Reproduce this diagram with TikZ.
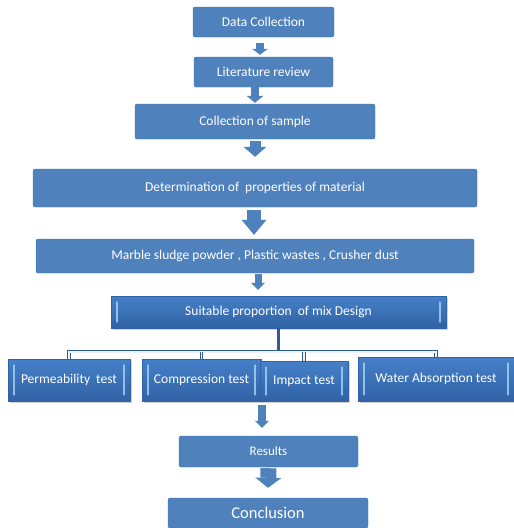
\documentclass[tikz,border=0pt]{standalone}
\usepackage{fontspec}
\setmainfont{Carlito}
\usetikzlibrary{arrows.meta,shadows}
\definecolor{boxblue}{RGB}{79,129,189}
\definecolor{boxedge}{RGB}{70,118,178}
\definecolor{bevtop}{RGB}{70,128,200}
\definecolor{bevbot}{RGB}{48,98,165}
\definecolor{bevlight}{RGB}{175,220,248}
\definecolor{treedark}{RGB}{50,92,145}
\definecolor{treelight}{RGB}{236,242,250}

\begin{document}
\begin{tikzpicture}[x=1pt,y=-1pt,
    flat/.style={draw=boxedge,fill=boxblue,rounded corners=2pt,text=white,
      inner sep=0pt,font=\fontsize{13.5}{16}\selectfont},
    bevel/.style={draw=bevbot,top color=bevtop,bottom color=bevbot,text=white,
      inner sep=0pt,font=\fontsize{13.5}{16}\selectfont,
      drop shadow={shadow xshift=1.5pt,shadow yshift=-1.5pt,opacity=0.35},
      path picture={
        \draw[bevlight,line width=1.3pt,line cap=round,opacity=0.75]
          ([xshift=6pt,yshift=-6pt]path picture bounding box.north west) --
          ([xshift=6pt,yshift=6pt]path picture bounding box.south west);
        \draw[bevlight,line width=1.3pt,line cap=round,opacity=0.75]
          ([xshift=-6pt,yshift=-6pt]path picture bounding box.north east) --
          ([xshift=-6pt,yshift=6pt]path picture bounding box.south east);}},
    fat/.style n args={3}{draw=boxblue,line width=#1,
      -{Triangle[width=#2,length=#3,line width=0pt]}},
    trunk/.style={draw=treedark,line width=3pt},
    branch/.style={draw=treedark,line width=0.8pt,double=treelight,double distance=1.6pt}]
  \useasboundingbox (0,0) rectangle (514,528);

  \node[flat,minimum width=141,minimum height=30] (data) at (263.5,22) {Data Collection};
  \node[flat,minimum width=139,minimum height=30] (lit) at (263.5,72) {Literature\ review};
  \node[flat,minimum width=240,minimum height=35] (col) at (255,121.5) {Collection\ of sample};
  \node[flat,minimum width=444,minimum height=38] (det) at (255,188) {Determination of\ \ properties of material};
  \node[flat,minimum width=438,minimum height=34] (mat) at (255,256) {Marble sludge powder , Plastic wastes , Crusher dust};
  \node[bevel,minimum width=335,minimum height=32] (mix) at (278.5,312) {Suitable\ proportion\ \ of mix Design};

  \node[bevel,minimum width=122,minimum height=42] (perm) at (69,380) {Permeability\ \ test};
  \node[bevel,minimum width=119,minimum height=42] (comp) at (201.5,380) {Compression test};
  \node[bevel,minimum width=88,minimum height=40] (imp) at (304,381) {Impact test};
  \node[bevel,minimum width=156,minimum height=44] (water) at (436,379) {Water Absorption test};

  \node[flat,minimum width=179,minimum height=31,font=\fontsize{13}{15}\selectfont] (res) at (268.5,451.5) {Results};
  \node[flat,minimum width=200,minimum height=30,font=\fontsize{16.5}{19}\selectfont] (conc) at (268,513) {Conclusion};
  \coordinate (split) at (262,405);

  % block arrows
  \draw[fat={8pt}{16pt}{6pt}] ([xshift=-3.5pt,yshift=-6pt]data.south) -- ([xshift=-3.5pt,yshift=2pt]lit.north);
  \draw[fat={8pt}{17pt}{7pt}] ([xshift=-8.5pt]lit.south) -- ([yshift=1pt]col.north);
  \draw[fat={11pt}{23pt}{10pt}] ([yshift=-2pt]col.south) -- ([yshift=12pt]det.north);
  \draw[fat={14pt}{25pt}{15pt}] ([xshift=-1pt,yshift=-3pt]det.south) -- ([xshift=-1pt,yshift=4pt]mat.north);
  \draw[fat={7pt}{14pt}{7pt}] ([xshift=3pt,yshift=-1pt]mat.south) -- ([xshift=3pt,yshift=6pt]mat.south |- mix.north);
  \draw[fat={8pt}{14pt}{7pt}] (split) -- ([xshift=-6.5pt,yshift=8pt]res.north);
  \draw[fat={16pt}{26pt}{10pt}] ([yshift=-1pt]res.south) -- ([yshift=10pt]conc.north);

  % tree to the tests
  \draw[trunk] (mix.south) -- ++(0,24);
  \draw[branch] (perm.north) -- ++(0,-7) -| (water.north);
  \draw[branch] (comp.north) -- ++(0,-7);
  \draw[branch] (imp.north) -- ++(0,-9);
\end{tikzpicture}
\end{document}
